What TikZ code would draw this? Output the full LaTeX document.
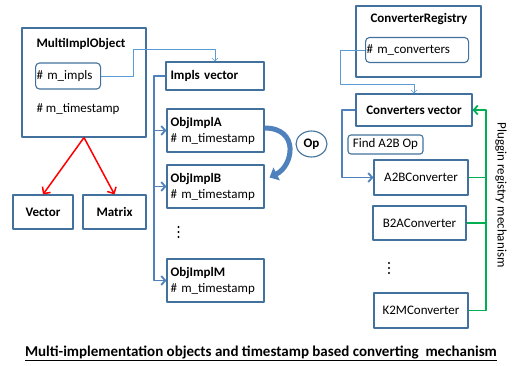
\documentclass[tikz,border=0pt]{standalone}
\usepackage{fontspec}
\setmainfont{Carlito}
\usetikzlibrary{arrows.meta,shapes.geometric}
\definecolor{boxblue}{HTML}{41719C}
\definecolor{busblue}{HTML}{4F81BD}
\definecolor{linkblue}{HTML}{5B9BD5}
\definecolor{plugreen}{HTML}{00B050}
\begin{document}
\begin{tikzpicture}[x=1pt, y=-1pt, font=\fontsize{13}{16}\selectfont, line join=round,
		box/.style={draw=boxblue, line width=1.1pt, inner sep=0pt},
		rbox/.style={draw=boxblue, line width=1.1pt, rounded corners=4pt, inner sep=1pt, align=left},
		objbox/.style={box, minimum height=43, text width=90, inner xsep=3.5pt, align=left},
		link/.style={linkblue, line width=0.6pt, -{Straight Barb[length=3pt,width=6pt]}},
		bus/.style={busblue, line width=1.8pt, -{Straight Barb[length=4pt,width=9pt]}},
		redarrow/.style={red, line width=1.5pt, -{Straight Barb[length=5pt,width=10pt]}},
		gline/.style={plugreen, line width=1.8pt}]
	\useasboundingbox (0,0) rectangle (513,365);
	% multi implementation object
	\node[box, minimum width=124, minimum height=109] (multi) at (84,82.5) {};
	\node[anchor=west] (multititle) at (33,44) {\textbf{MultiImplObject}};
	\node[rbox, text width=63, minimum height=26, anchor=west] (impls) at (35,76) {\# m\_impls};
	\node[anchor=west] (mts) at (33,109) {\# m\_timestamp};
	\node[box, minimum width=60, minimum height=34] (vector) at (43,212) {\textbf{Vector}};
	\node[box, minimum width=63, minimum height=34] (matrix) at (114.5,212) {\textbf{Matrix}};
	\draw[redarrow] (multi.south) -- (vector.north);
	\draw[redarrow] (multi.south) -- (matrix.north);
	% impls vector
	\node[box, minimum width=98, minimum height=28, text width=89, inner xsep=4.5pt, align=left] (implsvec) at (215,76) {\textbf{Impls vector}};
	\node[objbox] (objA) at (215.5,130.5) {\textbf{ObjImplA}\\\# m\_timestamp};
	\node[objbox] (objB) at (215.5,186.5) {\textbf{ObjImplB}\\\# m\_timestamp};
	\node[objbox] (objM) at (215.5,280.5) {\textbf{ObjImplM}\\\# m\_timestamp};
	\foreach \y in {227,232,237} \fill (178.5,\y) circle (1.1pt);
	\coordinate (busL) at (154,76);
	\draw[link] (impls.east) -| (133,49) -| (implsvec.north);
	\draw[bus] (implsvec.west) -- (busL) |- (objM.west);
	\draw[bus] (busL) |- (objA.west);
	\draw[bus] (busL) |- (objB.west);
	% op
	\draw[busblue, line width=5pt, -{Triangle[length=8pt,width=14pt]}] ([yshift=2.5pt]objA.east) .. controls +(35,0) and +(24,-12) .. ([xshift=5pt,yshift=9pt]objB.east);
	\node[draw=boxblue, line width=1.1pt, ellipse, minimum width=31, minimum height=26, inner sep=0pt] (op) at (311.5,144) {\textbf{Op}};
	% converter registry
	\node[box, minimum width=125, minimum height=71] (registry) at (418.5,41.5) {};
	\node (regtitle) at (419,19) {\textbf{ConverterRegistry}};
	\node[rbox, text width=101, minimum height=25, anchor=west] (mconv) at (365,50) {\# m\_converters};
	\node[box, minimum width=116, minimum height=32] (convvec) at (414,110) {\textbf{Converters vector}};
	\node[rbox, minimum width=75, minimum height=19, rounded corners=3pt, inner sep=0pt] (find) at (385.5,144.5) {Find A2B Op};
	\node[box, minimum width=94, minimum height=35] (a2b) at (421,177.5) {A2BConverter};
	\node[box, minimum width=93, minimum height=34] (b2a) at (419.5,223) {B2AConverter};
	\node[box, minimum width=94, minimum height=35] (k2m) at (421,310.5) {K2MConverter};
	\foreach \y in {263,268,273} \fill (389,\y) circle (1.1pt);
	\coordinate (convL) at (342,110);
	\coordinate (gbus) at (486,110);
	\draw[link] (mconv.west) -| (340,84) -| (convvec.north);
	\draw[bus] (convvec.west) -- (convL) |- (a2b.west);
	\draw[gline, -{Straight Barb[length=4pt,width=9pt]}] (k2m.east) -| (gbus) -- (convvec.east);
	\draw[gline] (a2b.east) -- (a2b.east -| gbus);
	\draw[gline] (b2a.east) -- (b2a.east -| gbus);
	\node[rotate=-90] (plugtext) at (501,195) {Pluggin registry mechanism};
	% caption
	\node (caption) at (261,353) {\fontsize{15}{18}\selectfont\underline{\textbf{Multi-implementation objects and timestamp based converting\ \ mechanism}}};
\end{tikzpicture}
\end{document}
